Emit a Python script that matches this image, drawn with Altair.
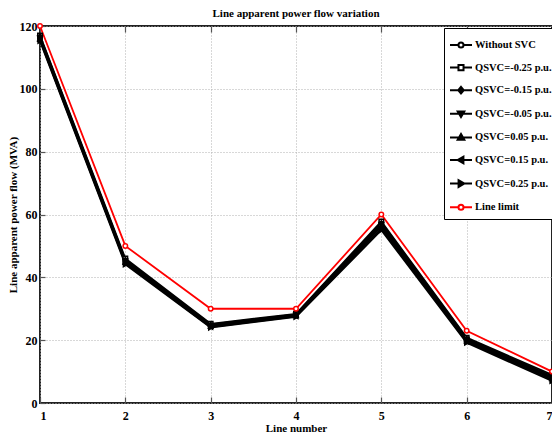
import altair as alt
import pandas as pd

line_numbers = [1, 2, 3, 4, 5, 6, 7]
series_names = ["Without SVC", "QSVC=-0.25 p.u.", "QSVC=-0.15 p.u.", "QSVC=-0.05 p.u.",
                "QSVC=0.05 p.u.", "QSVC=0.15 p.u.", "QSVC=0.25 p.u.", "Line limit"]
without_svc = [116.0, 45.0, 24.5, 27.9, 56.5, 20.0, 8.0]
q_m025 = [117.0, 46.0, 25.2, 28.4, 57.8, 20.8, 9.0]
q_m015 = [116.7, 45.6, 25.0, 28.2, 57.3, 20.5, 8.6]
q_m005 = [116.3, 45.2, 24.7, 28.0, 56.8, 20.2, 8.2]
q_p005 = [115.8, 44.8, 24.4, 27.8, 56.2, 19.8, 7.8]
q_p015 = [115.5, 44.5, 24.2, 27.6, 55.6, 19.5, 7.4]
q_p025 = [115.2, 44.1, 24.0, 27.4, 55.0, 19.2, 7.0]
line_limit = [120, 50, 30, 30, 60, 23, 10]
series_values = [without_svc, q_m025, q_m015, q_m005, q_p005, q_p015, q_p025, line_limit]

y_ticks = [0, 20, 40, 60, 80, 100, 120]
series_colors = ["black"] * 7 + ["red"]
series_widths = [1.8] * 7 + [1.6]
marker_shapes = ["circle", "square", "diamond", "triangle-down", "triangle-up",
                 "triangle-left", "triangle-right", "circle"]
marker_fills = ["white", "white", "black", "black", "black", "black", "black", "white"]
circ = "M0.23,0A0.23,0.23,0,1,1,-0.23,0A0.23,0.23,0,1,1,0.23,0Z"
legend_paths = [
    "M-1,0H-0.23M0.23,0H1" + circ,
    "M-1,0H-0.23M0.23,0H1M-0.23,-0.23H0.23V0.23H-0.23Z",
    "M-1,0H1M0,-0.3L0.25,0L0,0.3L-0.25,0Z",
    "M-1,0H1M-0.3,-0.22H0.3L0,0.3Z",
    "M-1,0H1M-0.3,0.22H0.3L0,-0.3Z",
    "M-1,0H1M0.22,-0.3V0.3L-0.3,0Z",
    "M-1,0H1M-0.22,-0.3V0.3L0.3,0Z",
    "M-1,0H-0.23M0.23,0H1" + circ,
]

rows = []
for name, vals in zip(series_names, series_values):
    for x, v in zip(line_numbers, vals):
        rows.append({"series": name, "line": x, "flow": v})
df = pd.DataFrame(rows)

FONT = "Liberation Serif"
x_scale = alt.Scale(domain=[1, 7], nice=False, zero=False)
y_scale = alt.Scale(domain=[0, 120], nice=False)

x_main = alt.X("line:Q", scale=x_scale,
               axis=alt.Axis(values=line_numbers, title="Line number", format="d",
                             orient="bottom", offset=-6, tickSize=6, labelPadding=7,
                             titlePadding=1))
x_top = alt.X("line:Q", scale=x_scale,
              axis=alt.Axis(values=line_numbers, title=None, orient="top", offset=-6,
                            tickSize=6, labels=False, grid=False, domain=False))
y_enc = alt.Y("flow:Q", scale=y_scale,
              axis=alt.Axis(values=y_ticks, title="Line apparent power flow (MVA)",
                            offset=-5, tickSize=5, labelPadding=3, titlePadding=1))

stroke_scale = alt.Scale(domain=series_names, range=series_colors)
fill_scale = alt.Scale(domain=series_names, range=marker_fills)

lines = alt.Chart(df).mark_line().encode(
    x=x_main, y=y_enc,
    stroke=alt.Stroke("series:N", scale=stroke_scale, legend=None),
    strokeWidth=alt.StrokeWidth("series:N", scale=alt.Scale(domain=series_names, range=series_widths), legend=None),
)

points = alt.Chart(df).mark_point(size=20, strokeWidth=1.5, opacity=1).encode(
    x=x_top, y=y_enc,
    stroke=alt.Stroke("series:N", scale=stroke_scale, legend=None),
    fill=alt.Fill("series:N", scale=fill_scale, legend=None),
    shape=alt.Shape("series:N", scale=alt.Scale(domain=series_names, range=marker_shapes), legend=None),
)

leg = alt.Legend(title=None, orient="none", legendX=404, legendY=2,
                 fillColor="white", strokeColor="black", padding=5,
                 symbolSize=484, symbolStrokeWidth=2, rowPadding=3.6, labelOffset=2,
                 labelFont=FONT, labelFontSize=10.5, labelFontWeight="bold", labelColor="black",
                 labelLimit=200)

legend_layer = alt.Chart(df).transform_filter("false").mark_point(opacity=1, strokeWidth=2).encode(
    stroke=alt.Stroke("series:N", scale=stroke_scale, legend=leg),
    fill=alt.Fill("series:N", scale=fill_scale, legend=leg),
    shape=alt.Shape("series:N", scale=alt.Scale(domain=series_names, range=legend_paths), legend=leg),
)

chart = alt.layer(lines, points, legend_layer).resolve_scale(
    stroke="independent", fill="independent", shape="independent", strokeWidth="independent"
).resolve_axis(x="independent").properties(
    width=512, height=377,
    padding={"left": 32, "top": 18, "right": 0, "bottom": 32},
    autosize=alt.AutoSizeParams(type="none"),
    title=alt.TitleParams("Line apparent power flow variation", font=FONT, fontSize=11,
                          fontWeight="bold", color="black", offset=1),
).configure_view(
    stroke="#222", strokeWidth=2
).configure_axis(
    labelFont=FONT, labelFontSize=12, labelFontWeight="bold", labelColor="black",
    titleFont=FONT, titleFontSize=11, titleFontWeight="bold", titleColor="black",
    domain=False, tickColor="#555", tickWidth=1.2,
    grid=True, gridColor="#b0b0b0", gridDash=[1, 2], gridWidth=1,
)

chart.save("out.html", embed_options={"renderer": "svg", "actions": False})
